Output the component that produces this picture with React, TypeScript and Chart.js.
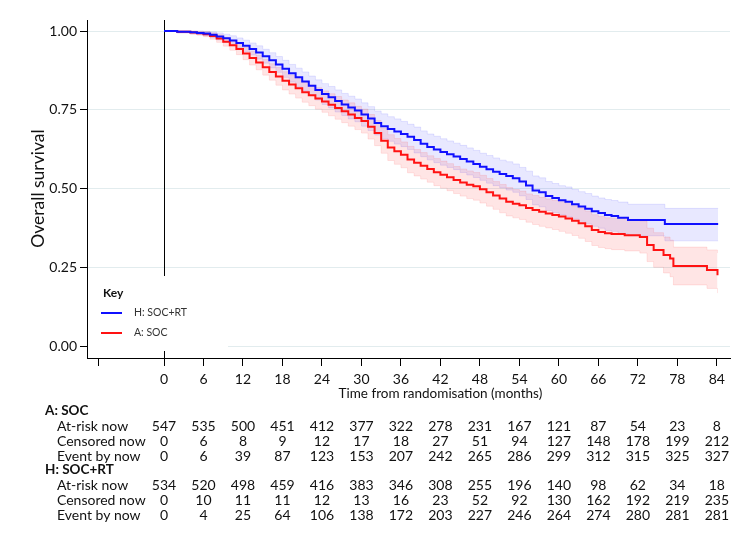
import React, { useEffect, useRef } from 'react';
import { Chart, registerables } from 'chart.js';

Chart.register(...registerables);

// Tick months of the time axis (and columns of the risk table)
const tickMonths = [0, 6, 12, 18, 24, 30, 36, 42, 48, 54, 60, 66, 72, 78, 84];

// Risk table
const socAtRisk = [547, 535, 500, 451, 412, 377, 322, 278, 231, 167, 121, 87, 54, 23, 8];
const socCensored = [0, 6, 8, 9, 12, 17, 18, 27, 51, 94, 127, 148, 178, 199, 212];
const socEvents = [0, 6, 39, 87, 123, 153, 207, 242, 265, 286, 299, 312, 315, 325, 327];
const rtAtRisk = [534, 520, 498, 459, 416, 383, 346, 308, 255, 196, 140, 98, 62, 34, 18];
const rtCensored = [0, 10, 11, 11, 12, 13, 16, 23, 52, 92, 130, 162, 192, 219, 235];
const rtEvents = [0, 4, 25, 64, 106, 138, 172, 203, 227, 246, 264, 274, 280, 281, 281];

// H: SOC+RT Kaplan-Meier estimate (step points) with 95% CI
const rtTimes = [0, 2, 4, 5, 6, 7, 8, 9, 10, 11, 12, 13, 14, 15, 16, 17, 18, 19, 20, 21, 22, 23, 24, 25, 26, 27, 28, 29, 30, 31, 32, 33, 34, 35, 36, 37, 38, 39, 40, 41, 42, 43, 44, 45, 46, 47, 48, 49, 50, 51, 52, 53, 54, 55, 56, 57, 58, 59, 60, 61, 62, 63, 64, 65, 66, 67, 68, 69, 70.5, 76.1, 84.2];
const rtSurv = [1.000, 0.998, 0.996, 0.994, 0.992, 0.988, 0.983, 0.977, 0.970, 0.962, 0.953, 0.943, 0.932, 0.920, 0.907, 0.894, 0.880, 0.866, 0.853, 0.840, 0.826, 0.813, 0.800, 0.790, 0.778, 0.767, 0.757, 0.748, 0.735, 0.722, 0.708, 0.698, 0.689, 0.681, 0.673, 0.664, 0.654, 0.642, 0.632, 0.624, 0.616, 0.609, 0.602, 0.594, 0.586, 0.578, 0.569, 0.561, 0.553, 0.546, 0.540, 0.533, 0.522, 0.510, 0.494, 0.488, 0.476, 0.470, 0.463, 0.458, 0.450, 0.443, 0.436, 0.428, 0.422, 0.416, 0.413, 0.407, 0.400, 0.387, 0.387];
const rtLower = [1.000, 0.994, 0.991, 0.988, 0.985, 0.979, 0.972, 0.964, 0.955, 0.946, 0.935, 0.924, 0.911, 0.898, 0.883, 0.869, 0.853, 0.838, 0.824, 0.810, 0.795, 0.781, 0.767, 0.756, 0.743, 0.732, 0.721, 0.712, 0.698, 0.684, 0.670, 0.659, 0.650, 0.641, 0.633, 0.624, 0.613, 0.601, 0.591, 0.582, 0.574, 0.567, 0.560, 0.551, 0.543, 0.535, 0.526, 0.517, 0.509, 0.502, 0.495, 0.488, 0.477, 0.465, 0.448, 0.442, 0.430, 0.424, 0.417, 0.411, 0.403, 0.396, 0.388, 0.380, 0.374, 0.367, 0.364, 0.357, 0.350, 0.334, 0.334];
const rtUpper = [1.000, 1.000, 1.000, 1.000, 0.999, 0.997, 0.994, 0.990, 0.985, 0.978, 0.971, 0.962, 0.953, 0.942, 0.931, 0.919, 0.907, 0.894, 0.882, 0.870, 0.857, 0.845, 0.833, 0.824, 0.813, 0.802, 0.793, 0.784, 0.772, 0.760, 0.746, 0.737, 0.728, 0.721, 0.713, 0.704, 0.695, 0.683, 0.673, 0.666, 0.658, 0.651, 0.644, 0.637, 0.629, 0.621, 0.612, 0.605, 0.597, 0.590, 0.585, 0.578, 0.567, 0.555, 0.540, 0.534, 0.522, 0.516, 0.509, 0.505, 0.497, 0.490, 0.484, 0.476, 0.470, 0.465, 0.462, 0.457, 0.450, 0.437, 0.437];

// A: SOC Kaplan-Meier estimate (step points) with 95% CI
const socTimes = [0, 2, 4, 5, 6, 7, 8, 9, 10, 11, 12, 13, 14, 15, 16, 17, 18, 19, 20, 21, 22, 23, 24, 25, 26, 27, 28, 29, 30, 31, 32, 33, 34, 35, 36, 37, 38, 39, 40, 41, 42, 43, 44, 45, 46, 47, 48, 49, 50, 51, 52, 53, 54, 55, 56, 57, 58, 59, 60, 61, 62, 63, 64, 65, 66, 67, 68, 70, 72.3, 73.4, 74.4, 75.9, 76.9, 77.4, 82.5, 84.1];
const socSurv = [1.000, 0.998, 0.995, 0.993, 0.990, 0.984, 0.976, 0.966, 0.955, 0.943, 0.929, 0.914, 0.900, 0.885, 0.870, 0.856, 0.842, 0.830, 0.818, 0.806, 0.796, 0.786, 0.776, 0.766, 0.756, 0.745, 0.735, 0.724, 0.714, 0.696, 0.676, 0.652, 0.630, 0.618, 0.607, 0.592, 0.582, 0.572, 0.562, 0.552, 0.544, 0.536, 0.527, 0.519, 0.512, 0.507, 0.498, 0.488, 0.478, 0.468, 0.458, 0.452, 0.447, 0.438, 0.432, 0.426, 0.421, 0.416, 0.411, 0.405, 0.398, 0.390, 0.380, 0.368, 0.362, 0.358, 0.356, 0.352, 0.346, 0.321, 0.305, 0.289, 0.278, 0.254, 0.241, 0.225];
const socLower = [1.000, 0.994, 0.990, 0.987, 0.982, 0.974, 0.964, 0.952, 0.939, 0.925, 0.909, 0.892, 0.877, 0.860, 0.844, 0.828, 0.813, 0.800, 0.787, 0.774, 0.763, 0.752, 0.742, 0.731, 0.720, 0.709, 0.698, 0.687, 0.676, 0.657, 0.636, 0.612, 0.589, 0.577, 0.566, 0.550, 0.540, 0.530, 0.520, 0.509, 0.501, 0.493, 0.484, 0.476, 0.468, 0.463, 0.454, 0.444, 0.434, 0.423, 0.413, 0.407, 0.402, 0.393, 0.386, 0.380, 0.375, 0.370, 0.364, 0.358, 0.351, 0.342, 0.332, 0.319, 0.313, 0.309, 0.306, 0.302, 0.295, 0.268, 0.250, 0.232, 0.220, 0.194, 0.183, 0.168];
const socUpper = [1.000, 1.000, 1.000, 0.999, 0.998, 0.994, 0.988, 0.980, 0.971, 0.961, 0.949, 0.936, 0.923, 0.910, 0.896, 0.884, 0.871, 0.860, 0.849, 0.838, 0.829, 0.820, 0.810, 0.801, 0.792, 0.781, 0.772, 0.761, 0.752, 0.735, 0.716, 0.692, 0.671, 0.659, 0.648, 0.634, 0.624, 0.614, 0.604, 0.595, 0.587, 0.579, 0.570, 0.562, 0.556, 0.551, 0.542, 0.532, 0.522, 0.513, 0.503, 0.497, 0.492, 0.483, 0.478, 0.472, 0.467, 0.462, 0.458, 0.452, 0.445, 0.438, 0.428, 0.417, 0.411, 0.407, 0.406, 0.402, 0.397, 0.374, 0.360, 0.346, 0.336, 0.314, 0.305, 0.295];

const yTicks = [0, 0.25, 0.5, 0.75, 1];

const seriesLabels = ['H: SOC+RT', 'A: SOC'];
const tableGroups = ['A: SOC', 'H: SOC+RT'];
const rowLabels = ['At-risk now', 'Censored now', 'Event by now'];

const BLUE = '#1010ff';
const RED = '#ff1212';
const FONT = 'Lato, "Open Sans", sans-serif';
const TEXT = '#111';

const pts = (xs: number[], ys: number[]) => xs.map((x, i) => ({ x, y: ys[i] }));

export default function App() {
  const ref = useRef<HTMLCanvasElement | null>(null);

  useEffect(() => {
    document.body.style.margin = '0';
    const canvas = ref.current;
    if (!canvas) return;

    const extras = {
      id: 'kmExtras',
      beforeDatasetsDraw(chart: any) {
        const { ctx, chartArea, scales } = chart;
        const x0 = Math.round(scales.x.getPixelForValue(0)) + 0.5;
        ctx.save();
        ctx.strokeStyle = '#000';
        ctx.lineWidth = 1;
        ctx.beginPath();
        ctx.moveTo(x0, chartArea.top);
        ctx.lineTo(x0, chartArea.bottom);
        ctx.stroke();
        ctx.restore();
      },
      afterDatasetsDraw(chart: any) {
        const { ctx, chartArea, scales } = chart;
        const xs = scales.x;
        const ys = scales.y;
        ctx.save();

        // Legend box ("Key")
        ctx.fillStyle = '#fff';
        ctx.fillRect(chartArea.left + 1, 276, 140, 75);
        ctx.fillStyle = TEXT;
        ctx.textBaseline = 'middle';
        ctx.textAlign = 'left';
        ctx.font = `bold 12px ${FONT}`;
        ctx.fillText('Key', 103, 293);
        const legendColors = [BLUE, RED];
        const legendY = [313, 333];
        ctx.font = `10.5px ${FONT}`;
        legendColors.forEach((c, i) => {
          ctx.strokeStyle = c;
          ctx.lineWidth = 2;
          ctx.beginPath();
          ctx.moveTo(101, legendY[i]);
          ctx.lineTo(122, legendY[i]);
          ctx.stroke();
          ctx.fillStyle = '#333';
          ctx.fillText(seriesLabels[i], 134, legendY[i]);
        });

        // Axis titles
        ctx.fillStyle = TEXT;
        ctx.font = `13.5px ${FONT}`;
        ctx.textAlign = 'center';
        const xMid = (xs.getPixelForValue(tickMonths[0]) + xs.getPixelForValue(tickMonths[tickMonths.length - 1])) / 2;
        ctx.fillText('Time from randomisation (months)', xMid, 394);

        ctx.save();
        const yMid = (ys.getPixelForValue(0) + ys.getPixelForValue(1)) / 2;
        ctx.translate(38, yMid);
        ctx.rotate(-Math.PI / 2);
        ctx.font = `17.5px ${FONT}`;
        ctx.fillText('Overall survival', 0, 0);
        ctx.restore();

        // Risk table
        const groups = [
          [socAtRisk, socCensored, socEvents],
          [rtAtRisk, rtCensored, rtEvents],
        ];
        const groupY = [411, 470];
        groups.forEach((rows, g) => {
          ctx.textAlign = 'left';
          ctx.font = `bold 13.5px ${FONT}`;
          ctx.fillStyle = TEXT;
          ctx.fillText(tableGroups[g], 45, groupY[g]);
          rows.forEach((vals, r) => {
            const y = groupY[g] + 15 * (r + 1);
            ctx.textAlign = 'left';
            ctx.font = `14px ${FONT}`;
            ctx.fillText(rowLabels[r], 57, y);
            ctx.textAlign = 'center';
            vals.forEach((v, i) => {
              ctx.fillText(String(v), xs.getPixelForValue(tickMonths[i]), y);
            });
          });
        });
        ctx.restore();
      },
    };

    const bandDs = (xs: number[], ys: number[], color: string, fillColor: string, fillTarget: any, order: number) => ({
      data: pts(xs, ys),
      borderColor: color,
      borderWidth: 1,
      backgroundColor: fillColor,
      fill: fillTarget,
      stepped: 'before' as const,
      pointRadius: 0,
      order,
    });

    const chart = new Chart(canvas, {
      type: 'line',
      data: {
        datasets: [
          bandDs(rtTimes, rtUpper, 'rgba(0,0,255,0.10)', 'rgba(0,0,255,0.09)', '+1', 3),
          bandDs(rtTimes, rtLower, 'rgba(0,0,255,0.10)', 'rgba(0,0,255,0.09)', false, 3),
          bandDs(socTimes, socUpper, 'rgba(255,0,0,0.10)', 'rgba(255,0,0,0.10)', '+1', 2),
          bandDs(socTimes, socLower, 'rgba(255,0,0,0.10)', 'rgba(255,0,0,0.10)', false, 2),
          {
            label: seriesLabels[1],
            data: pts(socTimes, socSurv),
            borderColor: RED,
            borderWidth: 2,
            fill: false,
            stepped: 'before' as const,
            pointRadius: 0,
            order: 1,
          },
          {
            label: seriesLabels[0],
            data: pts(rtTimes, rtSurv),
            borderColor: BLUE,
            borderWidth: 2,
            fill: false,
            stepped: 'before' as const,
            pointRadius: 0,
            order: 0,
          },
        ],
      },
      options: {
        animation: false,
        responsive: false,
        devicePixelRatio: 1,
        layout: { padding: { left: 0, top: 20, right: 20, bottom: 0 } },
        plugins: {
          legend: { display: false },
          tooltip: { enabled: false },
          title: { display: false },
        },
        scales: {
          x: {
            type: 'linear',
            min: -11.7,
            max: 86,
            afterBuildTicks: (s: any) => {
              s.ticks = [-10, ...tickMonths].map((v) => ({ value: v }));
            },
            afterFit: (s: any) => {
              s.height = 188;
            },
            ticks: {
              callback: (v: any) => (v === -10 ? '' : String(v)),
              font: { family: FONT, size: 14 },
              color: TEXT,
              padding: 5,
              maxRotation: 0,
              autoSkip: false,
            },
            grid: { drawOnChartArea: false, drawTicks: true, tickLength: 8, color: '#000', tickColor: '#000' },
            border: { display: true, color: '#000', width: 1 },
          },
          y: {
            type: 'linear',
            min: -0.038,
            max: 1.035,
            afterBuildTicks: (s: any) => {
              s.ticks = yTicks.map((v) => ({ value: v }));
            },
            afterFit: (s: any) => {
              s.width = 87;
            },
            ticks: {
              callback: (v: any) => Number(v).toFixed(2),
              font: { family: FONT, size: 14 },
              color: TEXT,
              padding: 3,
            },
            grid: { color: '#e2ecee', lineWidth: 1, tickLength: 7, tickColor: '#000' },
            border: { display: true, color: '#000', width: 1 },
          },
        },
      },
      plugins: [extras],
    });

    return () => chart.destroy();
  }, []);

  return (
    <div style={{ width: 750, height: 546, background: '#fff' }}>
      <canvas ref={ref} width={750} height={546} style={{ display: 'block' }} />
    </div>
  );
}
